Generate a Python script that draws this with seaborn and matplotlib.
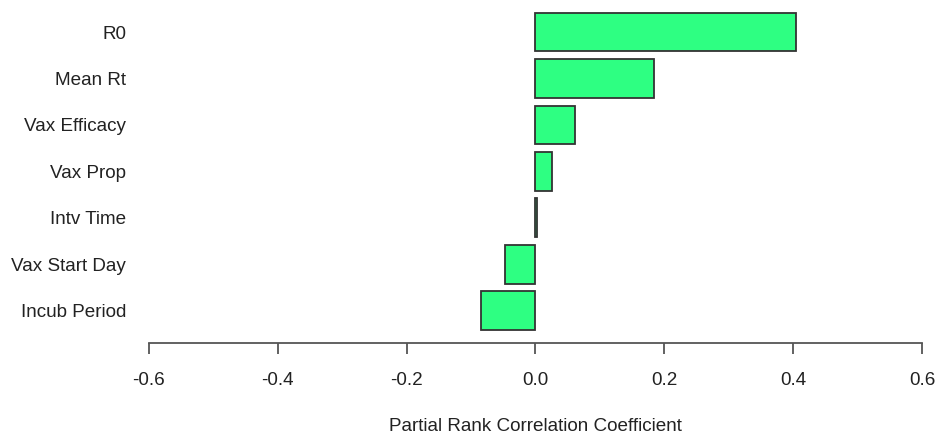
import pandas as pd
import matplotlib
matplotlib.use("Agg")
import matplotlib.pyplot as plt
import seaborn as sns

# PRCC values
params = ["R0", "Mean Rt", "Vax Efficacy", "Vax Prop", "Intv Time", "Vax Start Day", "Incub Period"]
prcc = [0.404, 0.184, 0.061, 0.026, 0.002, -0.048, -0.084]

df = pd.DataFrame({"Parameter": params, "PRCC": prcc})

sns.set_style("white")
plt.rcParams["font.family"] = ["Liberation Sans", "DejaVu Sans"]

fig = plt.figure(figsize=(9.37, 4.34), dpi=100)
ax = fig.add_axes([149 / 937, (434 - 342.7) / 434, (922 - 149) / 937, 342.7 / 434])

sns.barplot(data=df, x="PRCC", y="Parameter", orient="h", width=0.833,
            color="#2EFF82", saturation=1, edgecolor="#333333", linewidth=1.3, ax=ax)

ax.set_xlim(-0.6, 0.6)
ax.set_ylim(6.69, -0.69)
ax.set_xticks([-0.6, -0.4, -0.2, 0.0, 0.2, 0.4, 0.6])
ax.set_xticklabels(["-0.6", "-0.4", "-0.2", "0.0", "0.2", "0.4", "0.6"])

for side in ["top", "right", "left"]:
    ax.spines[side].set_visible(False)
ax.spines["bottom"].set_color("#555555")
ax.spines["bottom"].set_linewidth(1.3)

ax.tick_params(axis="x", direction="out", length=8, width=1.3, color="#555555",
               pad=13, labelsize=13.6, labelcolor="#222222", bottom=True)
ax.tick_params(axis="y", length=0, pad=16.5, labelsize=13.6, labelcolor="#222222")

ax.set_ylabel("")
ax.set_xlabel("Partial Rank Correlation Coefficient", fontsize=13.6, color="#222222", labelpad=21)

fig.savefig("out.png", dpi=100)
